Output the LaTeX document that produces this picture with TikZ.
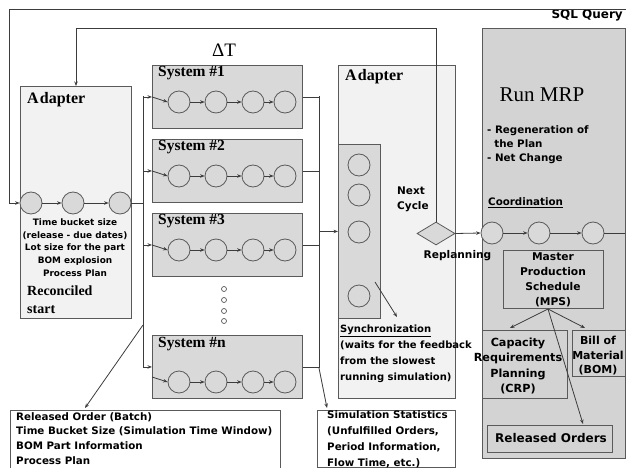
\documentclass[tikz,border=0pt]{standalone}
\usepackage{fontspec}
\setmainfont{Liberation Serif}
\newfontfamily\uisans{DejaVu Sans}
\usetikzlibrary{arrows.meta,shapes.geometric}

\definecolor{linegray}{HTML}{3C3C3C}
\definecolor{edgegray}{HTML}{5A5A5A}
\definecolor{lightfill}{HTML}{F2F2F2}
\definecolor{sysfill}{HTML}{D9D9D9}
\definecolor{panelfill}{HTML}{D3D3D3}

\tikzset{
  conn/.style={draw=linegray, line width=0.8pt},
  arr/.style={conn, -{Stealth[length=4.5pt,width=3.5pt]}},
  station/.style={circle, draw=edgegray, fill=sysfill, line width=0.8pt, minimum size=22pt, inner sep=0pt},
  dot/.style={circle, draw=edgegray, fill=white, line width=0.7pt, minimum size=5pt, inner sep=0pt},
  boxbase/.style={rectangle, draw=edgegray, line width=0.9pt, inner sep=0pt, anchor=north west},
  adapterbox/.style={boxbase, fill=lightfill},
  sysbox/.style={boxbase, fill=sysfill, minimum width=150pt, minimum height=63pt},
  panelbox/.style={boxbase, fill=panelfill},
  whitebox/.style={boxbase, fill=white},
  serifhead/.style={font=\bfseries\fontsize{14}{16}\selectfont, inner sep=0pt, anchor=base west},
  syshead/.style={font=\bfseries\fontsize{15.5}{17}\selectfont, inner sep=0pt, anchor=base west},
  adapterhead/.style={font=\bfseries\fontsize{16}{18}\selectfont, inner sep=0pt, anchor=base west},
  note/.style={font=\uisans\bfseries\fontsize{8.9}{12.7}\selectfont, inner sep=0pt, align=center},
  infotext/.style={font=\uisans\bfseries\fontsize{10.3}{16}\selectfont, inner sep=0pt, align=left},
}

\begin{document}
\begin{tikzpicture}[x=1pt, y=-1pt]
\useasboundingbox (0,0) rectangle (626,468);

% ---------------- Run MRP panel ----------------
\node[panelbox, minimum width=143pt, minimum height=430pt] (mrp) at (482,28) {};
\node[font=\uisans\bfseries\fontsize{12}{14}\selectfont, inner sep=0pt, anchor=east] (sql) at (623,15) {SQL Query};
\node[font=\fontsize{21}{24}\selectfont, inner sep=0pt] (runmrp) at (542,95) {Run MRP};
\node[font=\uisans\bfseries\fontsize{10.3}{14}\selectfont, inner sep=0pt, align=left, anchor=north west] (modes) at (487,125)
  {- Regeneration of\\\ \ the Plan\\- Net Change};
\node[font=\uisans\bfseries\fontsize{10.3}{12}\selectfont, inner sep=0pt, anchor=west] (coord) at (488,203) {\underline{Coordination}};

\node[station] (m1) at (492,233) {};
\node[station] (m2) at (539,233) {};
\node[station] (m3) at (593,233) {};
\coordinate (mout) at (625,233);

\node[panelbox, minimum width=100pt, minimum height=58pt] (mps) at (503,250) {};
\node[note, font=\uisans\bfseries\fontsize{10.7}{15}\selectfont] (mpstext) at (553,280) {Master\\Production\\Schedule\\(MPS)};
\node[panelbox, minimum width=85pt, minimum height=68pt] (crp) at (482,330) {};
\node[note, font=\uisans\bfseries\fontsize{11.2}{15.6}\selectfont] (crptext) at (518,366) {Capacity\\Requirements\\Planning\\(CRP)};
\node[panelbox, minimum width=53pt, minimum height=46pt] (bom) at (572,330) {};
\node[note, font=\uisans\bfseries\fontsize{11}{14.5}\selectfont] (bomtext) at (598,356) {Bill of\\Material\\(BOM)};
\node[panelbox, minimum width=125pt, minimum height=27pt] (rel) at (487,425) {};
\node[font=\uisans\bfseries\fontsize{12}{14}\selectfont, inner sep=0pt] (reltext) at (551,438.5) {Released Orders};

\coordinate (mpsfoot) at (548,309);
\draw[arr] (mpsfoot) -- (510,328);
\draw[arr] (mpsfoot) -- (585,328);
\draw[arr] (mpsfoot) -- (583,424);

\draw[arr] (m1) -- (m2);
\draw[arr] (m2) -- (m3);
\draw[conn] (m3) -- (mout);

% ---------------- outer loop corners ----------------
\coordinate (ftopR) at (626,9);
\coordinate (ftopL) at (9,9);
\coordinate (fleft) at (9,203);

% ---------------- first adapter ----------------
\node[adapterbox, minimum width=111pt, minimum height=232pt] (ad1) at (20,86) {};
\node[adapterhead] (ad1title) at (27,103) {A\kern1.2pt dapter};
\node[station] (a1) at (31,203) {};
\node[station] (a2) at (73,203) {};
\node[station] (a3) at (120,203) {};
\draw[arr] (a1) -- (a2);
\draw[arr] (a2) -- (a3);
\node[note] (ad1text) at (75,247.5)
  {Time bucket size\\(release - due dates)\\Lot size for the part\\BOM explosion\\Process Plan};
\node[serifhead] (recon) at (27,295) {Reconciled};
\node[serifhead] (start) at (27,313) {start};

\draw[arr] (ftopR) -- (ftopL) -- (fleft) -- (a1.west);

% ---------------- simulation systems ----------------
\node[font=\fontsize{19}{20}\selectfont, inner sep=0pt] (dt) at (224,50) {ΔT};

\node[sysbox] (sys1) at (152,65) {};
\node[sysbox] (sys2) at (152,139) {};
\node[sysbox] (sys3) at (152,213) {};
\node[sysbox] (sysn) at (152,335) {};
\node[syshead] (l1) at (158,76.5) {System \#1};
\node[syshead] (l2) at (158,150.5) {System \#2};
\node[syshead] (l3) at (158,224.5) {System \#3};
\node[syshead] (ln) at (158,347.5) {System \#n};

\foreach \s/\y in {sys1/102, sys2/176, sys3/250, sysn/382}{
  \node[station] (\s-a) at (179,\y) {};
  \node[station] (\s-b) at (216,\y) {};
  \node[station] (\s-c) at (253,\y) {};
  \node[station] (\s-d) at (285,\y) {};
  \draw[arr] (\s-a) -- (\s-b);
  \draw[arr] (\s-b) -- (\s-c);
  \draw[arr] (\s-c) -- (\s-d);
}

\foreach \k/\y in {1/289, 2/300, 3/311, 4/321}{
  \node[dot] (more\k) at (224,\y) {};
}

% distribution bus
\coordinate (busT) at (143,96.5);
\coordinate (busB) at (143,366.5);
\draw[conn] (busT) -- (busB);
\draw[conn] (a3.east) -- (a3.east -| busT);
\foreach \s in {sys1, sys2, sys3, sysn}{
  \draw[arr] (\s.west -| busT) -- (\s.west);
}
\foreach \s in {sys1, sys2, sys3}{
  \draw[arr] (\s.west) -- (\s-a.west);
}
\coordinate (snin) at (152,377);
\draw[arr] (snin) -- (sysn-a.west);

% collection bus
\coordinate (colT) at (319,96.5);
\coordinate (colB) at (319,368);
\draw[conn] (colT) -- (colB);
\foreach \s in {sys1, sys2, sys3, sysn}{
  \draw[conn] (\s.east) -- (\s.east -| colT);
}

% ---------------- second adapter ----------------
\node[adapterbox, minimum width=117pt, minimum height=333pt] (ad2) at (338,65) {};
\node[adapterhead] (ad2title) at (345,81) {A\kern1.2pt dapter};
\node[boxbase, fill=sysfill, minimum width=42pt, minimum height=174pt] (sync) at (338,144) {};
\node[station] (w1) at (359,165) {};
\node[station] (w2) at (359,195) {};
\node[station] (w3) at (359,232) {};
\node[station] (w4) at (359,296) {};
\draw[arr] (sync.west -| colT) -- (sync.west);

\node[infotext, font=\uisans\bfseries\fontsize{10}{16}\selectfont, anchor=north west] (synctext) at (340,325)
  {\underline{Synchronization}\\(waits for the feedback\\from the slowest\\running simulation)};
\coordinate (syncarrow) at (375,282);
\draw[arr] (syncarrow) -- (397,317);

\node[font=\uisans\bfseries\fontsize{10.5}{15}\selectfont, inner sep=0pt, align=left, anchor=north west] (nextc) at (397,187) {Next\\Cycle};
\node[diamond, draw=edgegray, fill=sysfill, line width=0.8pt, minimum width=38pt, minimum height=23pt, inner sep=0pt, aspect=1.65] (dec) at (436,233.5) {};
\node[font=\uisans\bfseries\fontsize{10.6}{12}\selectfont, inner sep=0pt] (replan) at (457.5,256) {Replanning};
\draw[arr] (dec.east) -- (m1.west);

% next-cycle feedback
\coordinate (fbR) at (436,28);
\coordinate (fbL) at (76,28);
\draw[arr] (dec.north) -- (fbR) -- (fbL) -- (ad1.north -| fbL);

% ---------------- information boxes ----------------
\node[whitebox, minimum width=270pt, minimum height=70pt] (orderbox) at (10,410) {};
\node[infotext, font=\uisans\bfseries\fontsize{10.3}{14.8}\selectfont, anchor=north west] (ordertext) at (16,412)
  {Released Order (Batch)\\Time Bucket Size (Simulation Time Window)\\BOM Part Information\\Process Plan};
\node[whitebox, minimum width=138pt, minimum height=57pt] (statbox) at (317,410) {};
\node[infotext, anchor=north west] (stattext) at (327,410.5)
  {Simulation Statistics\\(Unfulfilled Orders,\\Period Information,\\Flow Time, etc.)};

\coordinate (busTap) at (143,325);
\draw[arr] (busTap) -- (85,408);
\draw[arr] (colB) -- (327,408);
\end{tikzpicture}
\end{document}
